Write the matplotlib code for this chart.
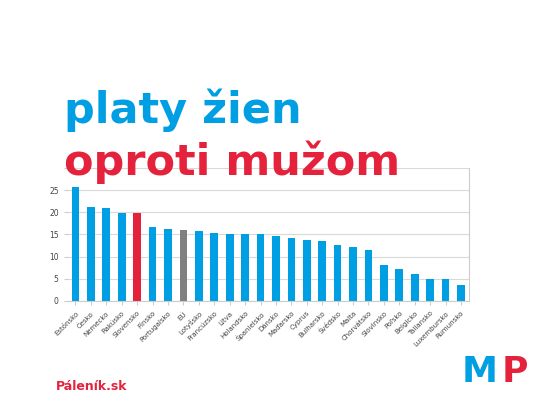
import matplotlib
matplotlib.use("Agg")
import matplotlib.pyplot as plt

BLUE = "#009fe3"
RED = "#e4223c"
GREY = "#808080"

countries = ["Estónsko", "Česko", "Nemecko", "Rakúsko", "Slovensko", "Fínsko",
             "Portugalsko", "EÚ", "Lotyšsko", "Francúzsko", "Litva", "Holandsko",
             "Španielsko", "Dánsko", "Maďarsko", "Cyprus", "Bulharsko", "Švédsko",
             "Malta", "Chorvátsko", "Slovinsko", "Poľsko", "Belgicko", "Taliansko",
             "Luxembursko", "Rumunsko"]
gap = [25.6, 21.1, 21.0, 19.9, 19.8, 16.7, 16.3, 16.0, 15.7, 15.4, 15.2, 15.2,
       15.1, 14.6, 14.2, 13.7, 13.6, 12.6, 12.2, 11.6, 8.0, 7.2, 6.0, 5.0, 5.0, 3.5]
yticks = [0, 5, 10, 15, 20, 25]

colors = [RED if c == "Slovensko" else GREY if c == "EÚ" else BLUE for c in countries]

fig = plt.figure(figsize=(5.6, 3.95), dpi=100)
ax = fig.add_axes([0.121, 0.238, 0.716, 0.337])
x = range(len(countries))
ax.bar(x, gap, width=0.5, color=colors, zorder=2)
ax.set_xlim(-0.5, len(countries) - 0.5)
ax.set_ylim(0, 30)
ax.set_yticks(yticks + [30])
ax.set_yticklabels([str(v) for v in yticks] + [""])
ax.yaxis.grid(True, color="#d9d9d9", lw=0.8, zorder=0)
ax.set_xticks(list(x))
ax.set_xticklabels(countries, rotation=45, ha="right", rotation_mode="anchor",
                   fontsize=5, color="#444444")
ax.tick_params(axis="y", labelsize=5.5, labelcolor="#444444", length=3, color="#cccccc")
ax.tick_params(axis="x", length=3, color="#cccccc")
for s in ("left", "top"):
    ax.spines[s].set_visible(False)
for s in ("right", "bottom"):
    ax.spines[s].set_color("#cccccc")

# title sits over the top of the plot, like in the original
fig.text(0.114, 0.689, "platy žien", color=BLUE, fontsize=31, fontweight="bold")
fig.text(0.114, 0.557, "oproti mužom", color=RED, fontsize=31, fontweight="bold")
fig.text(0.10, 0.013, "Páleník.sk", color=RED, fontsize=9, fontweight="bold")
fig.text(0.825, 0.033, "M", color=BLUE, fontsize=26, fontweight="bold")
fig.text(0.895, 0.033, "P", color=RED, fontsize=26, fontweight="bold")

fig.savefig("out.png", dpi=100)
